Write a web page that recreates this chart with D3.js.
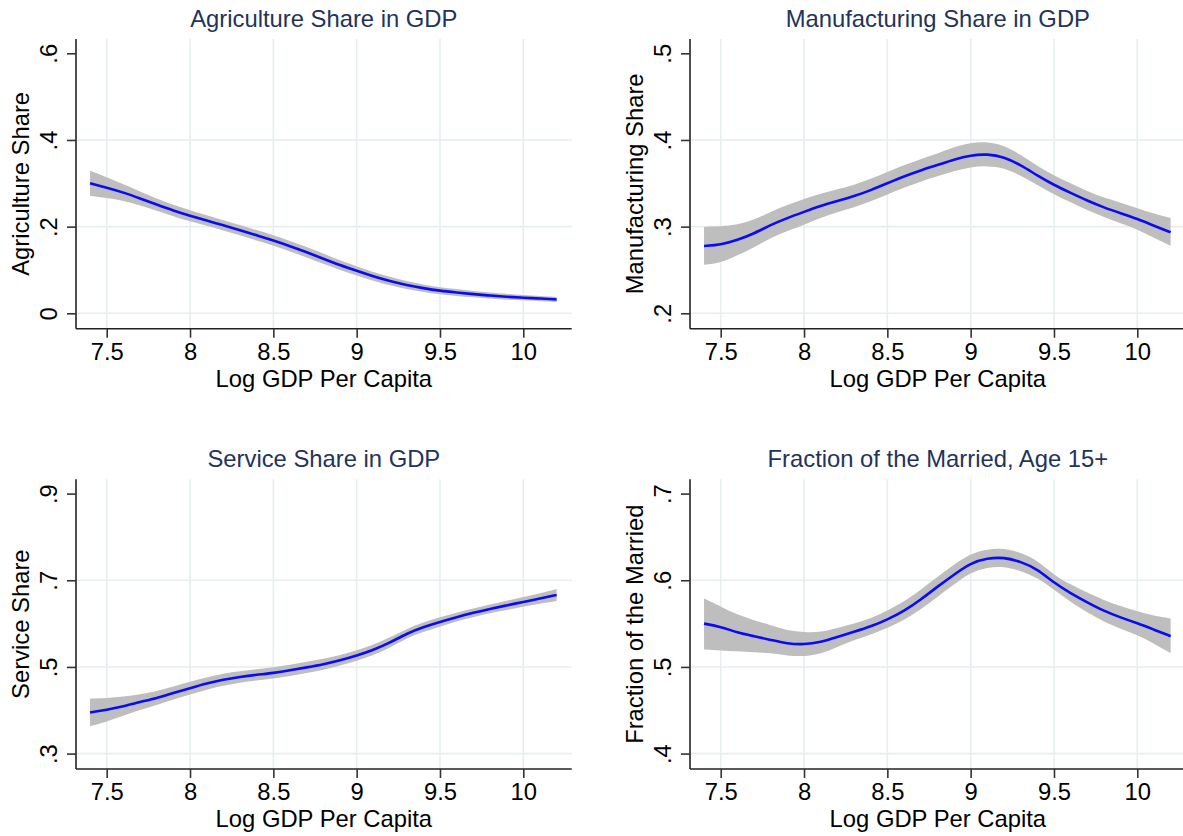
<!DOCTYPE html>
<html><head><meta charset="utf-8">
<script src="https://cdn.jsdelivr.net/npm/d3@7"></script>
<style>body{margin:0;background:#fff} svg{display:block}</style>
</head><body>
<svg id="chart" width="1183" height="836"></svg>
<script>
// ---- data ----
const xGrid = [7.4,7.5,7.6,7.7,7.8,7.9,8.0,8.1,8.2,8.3,8.4,8.5,8.6,8.7,8.8,8.9,9.0,9.1,9.2,9.3,9.4,9.5,9.6,9.7,9.8,9.9,10.0,10.1,10.2];
const xTicks = [7.5,8,8.5,9,9.5,10];
const xTickLabels = ["7.5","8","8.5","9","9.5","10"];

const agriFit = [.300,.290,.279,.265,.251,.237,.225,.214,.203,.192,.180,.168,.155,.141,.126,.111,.098,.085,.074,.065,.058,.052,.048,.044,.041,.038,.036,.034,.032];
const agriHi  = [.329,.314,.298,.281,.265,.250,.238,.226,.215,.204,.192,.180,.167,.153,.138,.122,.109,.095,.084,.074,.066,.060,.056,.051,.048,.045,.042,.040,.038];
const agriLo  = [.271,.266,.260,.249,.237,.224,.212,.202,.191,.180,.168,.156,.143,.129,.114,.100,.087,.075,.064,.056,.049,.044,.040,.037,.034,.031,.030,.028,.026];
const agriTicks = [0,.2,.4,.6];
const agriTickLabels = ["0",".2",".4",".6"];

const manuFit = [.2777,.2790,.2845,.2920,.3020,.3100,.3170,.3240,.3295,.3350,.3420,.3500,.3580,.3650,.3710,.3775,.3825,.3838,.3805,.3710,.3590,.3480,.3390,.3300,.3220,.3155,.3090,.3010,.2935];
const manuHi  = [.300,.300,.302,.308,.317,.325,.332,.338,.343,.348,.355,.363,.371,.378,.384,.392,.397,.398,.394,.383,.370,.359,.350,.341,.333,.328,.321,.315,.310];
const manuLo  = [.256,.258,.267,.276,.287,.295,.302,.310,.317,.322,.329,.337,.345,.352,.358,.364,.369,.370,.368,.359,.348,.337,.328,.319,.311,.304,.297,.287,.278];
const manuTicks = [.2,.3,.4,.5];
const manuTickLabels = [".2",".3",".4",".5"];

const servFit = [.395,.401,.409,.419,.428,.440,.451,.462,.471,.477,.482,.486,.492,.499,.506,.515,.526,.539,.556,.577,.592,.604,.615,.625,.634,.642,.650,.658,.666];
const servHi  = [.427,.428,.431,.437,.444,.455,.466,.476,.485,.490,.495,.499,.505,.512,.519,.527,.538,.551,.568,.588,.603,.615,.625,.635,.644,.653,.661,.670,.680];
const servLo  = [.363,.374,.387,.401,.412,.425,.436,.448,.457,.464,.469,.473,.479,.486,.493,.503,.514,.527,.544,.566,.581,.593,.605,.615,.624,.631,.639,.646,.652];
const servTicks = [.3,.5,.7,.9];
const servTickLabels = [".3",".5",".7",".9"];

const marrFit = [.550,.5465,.5395,.5355,.5312,.5268,.5258,.5285,.5345,.5405,.5465,.5546,.5645,.5775,.5925,.6065,.6200,.6255,.6265,.6215,.6130,.5970,.5850,.5745,.5645,.5570,.5505,.5430,.5355];
const marrHi  = [.579,.570,.560,.554,.548,.542,.540,.540,.545,.550,.556,.565,.575,.589,.604,.618,.631,.636,.637,.632,.623,.606,.595,.586,.577,.570,.564,.559,.556];
const marrLo  = [.520,.519,.518,.517,.516,.513,.512,.515,.523,.531,.537,.545,.554,.566,.581,.595,.609,.615,.616,.611,.603,.589,.575,.563,.552,.544,.537,.527,.516];
const marrTicks = [.4,.5,.6,.7];
const marrTickLabels = [".4",".5",".6",".7"];

const titles = ["Agriculture Share in GDP","Manufacturing Share in GDP","Service Share in GDP","Fraction of the Married, Age 15+"];
const yTitles = ["Agriculture Share","Manufacturing Share","Service Share","Fraction of the Married"];
const xTitle = "Log GDP Per Capita";

// ---- layout ----
const panels = [
  {fit:agriFit, lo:agriLo, hi:agriHi, ticks:agriTicks, labels:agriTickLabels, col:0, row:0},
  {fit:manuFit, lo:manuLo, hi:manuHi, ticks:manuTicks, labels:manuTickLabels, col:1, row:0},
  {fit:servFit, lo:servLo, hi:servHi, ticks:servTicks, labels:servTickLabels, col:0, row:1},
  {fit:marrFit, lo:marrLo, hi:marrHi, ticks:marrTicks, labels:marrTickLabels, col:1, row:1}
];
const colX = [76, 690], rowY = [39, 479.3];
const W = 495.7, H = 289.7;
const FONT = "'Liberation Sans', Arial, Helvetica, sans-serif";
const FS = "23.8px";

const svg = d3.select("#chart");
svg.append("rect").attr("width",1183).attr("height",836).attr("fill","#fff");

panels.forEach((p, i) => {
  const g = svg.append("g").attr("transform", `translate(${colX[p.col]},${rowY[p.row]})`);
  const x = d3.scaleLinear().domain([7.5, 10]).range([30.7, 447.3]);
  const y = d3.scaleLinear().domain([p.ticks[0], p.ticks[p.ticks.length-1]]).range([274.3, 14.3]);

  // grid
  g.selectAll(".vg").data(xTicks).join("line")
    .attr("x1", d=>x(d)).attr("x2", d=>x(d)).attr("y1", 0).attr("y2", H)
    .attr("stroke", "#e6eef0").attr("stroke-width", 1.6);
  g.selectAll(".hg").data(p.ticks.slice(0, -1)).join("line")
    .attr("x1", 0).attr("x2", W).attr("y1", d=>y(d)).attr("y2", d=>y(d))
    .attr("stroke", "#e6eef0").attr("stroke-width", 1.6);

  const data = xGrid.map((xv, k) => ({x:xv, f:p.fit[k], lo:p.lo[k], hi:p.hi[k]}));
  g.append("path").datum(data)
    .attr("d", d3.area().x(d=>x(d.x)).y0(d=>y(d.lo)).y1(d=>y(d.hi)).curve(d3.curveBasis))
    .attr("fill", "#bebebe");
  g.append("path").datum(data)
    .attr("d", d3.line().x(d=>x(d.x)).y(d=>y(d.f)).curve(d3.curveBasis))
    .attr("fill", "none").attr("stroke", "#0a0af5").attr("stroke-width", 2.6);

  // y axis
  const ya = g.append("g").call(d3.axisLeft(y).tickValues(p.ticks).tickSize(9).tickSizeOuter(0)
      .tickFormat((d, k) => p.labels[k]));
  ya.select(".domain").attr("d", `M0,0V${H}`).attr("stroke", "#222").attr("stroke-width", 1.6);
  ya.selectAll(".tick line").attr("stroke", "#333").attr("stroke-width", 1.6);
  ya.selectAll(".tick text").attr("x", null).attr("dy", null).attr("y", null)
    .attr("transform", "translate(-19,0) rotate(-90)")
    .attr("text-anchor", "middle").attr("fill", "#000")
    .style("font-family", FONT).style("font-size", FS);

  // x axis
  const xa = g.append("g").attr("transform", `translate(0,${H})`)
    .call(d3.axisBottom(x).tickValues(xTicks).tickSize(9).tickSizeOuter(0)
      .tickFormat((d, k) => xTickLabels[k]));
  xa.select(".domain").attr("d", `M0,0H${W}`).attr("stroke", "#222").attr("stroke-width", 1.6);
  xa.selectAll(".tick line").attr("stroke", "#333").attr("stroke-width", 1.6);
  xa.selectAll(".tick text").attr("dy", null).attr("y", 31.3).attr("fill", "#000")
    .style("font-family", FONT).style("font-size", FS);

  // titles
  g.append("text").attr("x", W/2).attr("y", -12).attr("text-anchor", "middle")
    .attr("fill", "#22335c").style("font-family", FONT).style("font-size", FS)
    .text(titles[i]);
  g.append("text").attr("x", W/2).attr("y", H + 58).attr("text-anchor", "middle")
    .attr("fill", "#000").style("font-family", FONT).style("font-size", FS)
    .text(xTitle);
  g.append("text").attr("transform", `translate(-47,${H/2}) rotate(-90)`).attr("text-anchor", "middle")
    .attr("fill", "#000").style("font-family", FONT).style("font-size", FS)
    .text(yTitles[i]);
});
</script>
</body></html>
